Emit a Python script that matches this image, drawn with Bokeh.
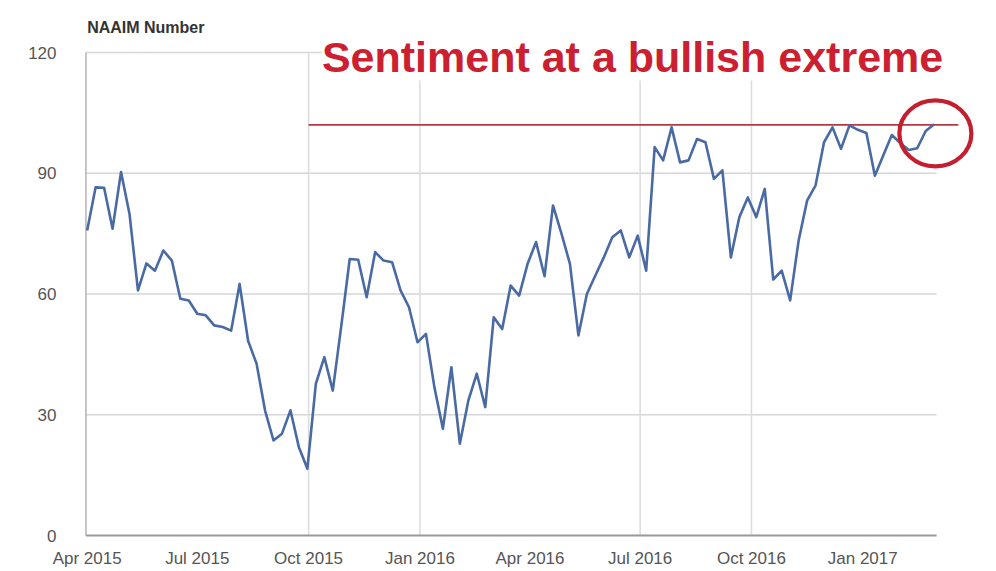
import pandas as pd
from bokeh.plotting import figure
from bokeh.models import Range1d, FixedTicker, DatetimeTickFormatter, Label
from bokeh.embed import file_html
from bokeh.resources import INLINE

# ---------------- data ----------------
start_date = "2015-04-01"
naaim = [
    75.8, 86.5, 86.4, 76.2, 90.3, 79.9, 60.9, 67.6, 65.8, 70.8,
    68.3, 58.8, 58.4, 55.1, 54.7, 52.2, 51.8, 50.9, 62.5, 48.4,
    42.7, 31.1, 23.6, 25.3, 31.1, 21.9, 16.6,
    37.7, 44.3, 36.0, 52.0, 68.7, 68.5, 59.2, 70.4, 68.3, 67.9,
    60.9, 56.7, 48.0, 50.1, 36.8, 26.5, 41.8, 22.8, 33.5, 40.2,
    31.9, 54.2, 51.3, 62.1, 59.6, 67.5, 72.9, 64.4,
    82.0, 75.0, 67.5, 49.7, 60.0, 64.6, 69.1, 74.1, 75.8, 69.1,
    74.5, 65.8, 96.5, 93.2, 101.4, 92.7, 93.2, 98.5, 97.7, 88.6,
    90.7, 69.1, 79.1, 84.0, 79.1, 86.1, 63.6,
    65.8, 58.4, 73.3, 83.2, 87.0, 97.7, 101.4, 96.1, 101.9, 100.8,
    100.0, 89.4, 94.5, 99.5, 97.5, 95.8, 96.2, 100.5, 102.2,
]
dates = pd.date_range(start_date, periods=len(naaim), freq="7D")

y_ticks = [0, 30, 60, 90, 120]
x_tick_dates = ["2015-04-01", "2015-07-01", "2015-10-01", "2016-01-01",
                "2016-04-01", "2016-07-01", "2016-10-01", "2017-01-01"]
v_grid_dates = ["2015-10-01", "2016-01-01", "2016-07-01", "2016-10-01"]
extreme_level = 102
extreme_from = "2015-10-01"
axis_title = "NAAIM Number"
headline = "Sentiment at a bullish extreme"


def ms(d):
    return pd.Timestamp(d).value // 10**6


DAY = 86400000.0
# ---------------- layout ----------------
px_per_day = 1.21
frame_left, frame_right = 80, 980
x_start = ms(start_date) - 5.5 * DAY
x_end = x_start + (frame_right - frame_left) / px_per_day * DAY

px_per_unit = 4.025
frame_top, frame_bottom = 10, 540
y_start = -5 / px_per_unit
y_end = y_start + (frame_bottom - frame_top) / px_per_unit

p = figure(width=996, height=571, x_axis_type="datetime",
           output_backend="svg", toolbar_location=None,
           x_range=Range1d(x_start, x_end), y_range=Range1d(y_start, y_end),
           min_border_left=frame_left, min_border_right=996 - frame_right,
           min_border_top=frame_top, min_border_bottom=571 - frame_bottom)
p.outline_line_color = None
p.xgrid.visible = False
p.ygrid.visible = False
p.background_fill_color = "white"
p.border_fill_color = "white"

grid_end = dates[-1] + pd.Timedelta(days=2)
grid_start = pd.Timestamp(start_date) - pd.Timedelta(days=1)

# horizontal gridlines
gy = [t for t in y_ticks if t > 0]
p.segment(x0=[grid_start] * len(gy), x1=[grid_end] * len(gy), y0=gy, y1=gy,
          line_color="#d6d6d6", line_width=1.6)
# vertical gridlines
vx = [pd.Timestamp(d) for d in v_grid_dates]
p.segment(x0=vx, x1=vx, y0=[0] * len(vx), y1=[max(y_ticks)] * len(vx),
          line_color="#dddddd", line_width=1.6)
# left axis line and baseline
p.segment(x0=[grid_start], x1=[grid_start], y0=[0], y1=[max(y_ticks)],
          line_color="#b8b8b8", line_width=1.6)
p.segment(x0=[grid_start], x1=[grid_end], y0=[0], y1=[0],
          line_color="#999999", line_width=2.2)

# extreme level line
p.segment(x0=[pd.Timestamp(extreme_from)],
          x1=[dates[-1] + pd.Timedelta(days=20)],
          y0=[extreme_level], y1=[extreme_level],
          line_color="#b23a44", line_width=1.8)

# the data line
p.line(dates, naaim, line_color="#4a6aa3", line_width=2.6, line_join="round")

# red circle around the last reading
p.ellipse(x=[dates[-1] + pd.Timedelta(days=1)], y=[naaim[-1] - 2.3],
          width=72, height=66, width_units="screen", height_units="screen",
          fill_color=None, line_color="#c41f2f", line_width=4.2)

# axes
p.xaxis.ticker = FixedTicker(ticks=[ms(d) for d in x_tick_dates])
fmt = "%b %Y"
p.xaxis.formatter = DatetimeTickFormatter(
    milliseconds=fmt, seconds=fmt, minsec=fmt, minutes=fmt, hourmin=fmt,
    hours=fmt, days=fmt, months=fmt, years=fmt)
p.yaxis.ticker = FixedTicker(ticks=y_ticks)
for ax in (p.xaxis, p.yaxis):
    ax.axis_line_color = None
    ax.major_tick_line_color = None
    ax.minor_tick_line_color = None
    ax.major_label_text_color = "#555555"
    ax.major_label_text_font = "Liberation Sans"
    ax.major_label_text_font_size = "17px"
p.xaxis.major_label_standoff = 2
p.yaxis.major_label_standoff = 18

# texts
p.add_layout(Label(x=ms(start_date), y=(535 - 27) / px_per_unit,
                   text=axis_title, text_font="Liberation Sans",
                   text_font_style="bold", text_font_size="16px",
                   text_baseline="middle", text_color="#333333"))
p.add_layout(Label(x=ms("2015-10-12"), y=(535 - 56) / px_per_unit,
                   text=headline, text_font="Liberation Sans",
                   text_font_style="bold", text_font_size="43px",
                   text_baseline="middle", padding=0,
                   text_color="#cc2030", background_fill_color="white"))

open("out.html", "w").write(file_html(p, INLINE))
